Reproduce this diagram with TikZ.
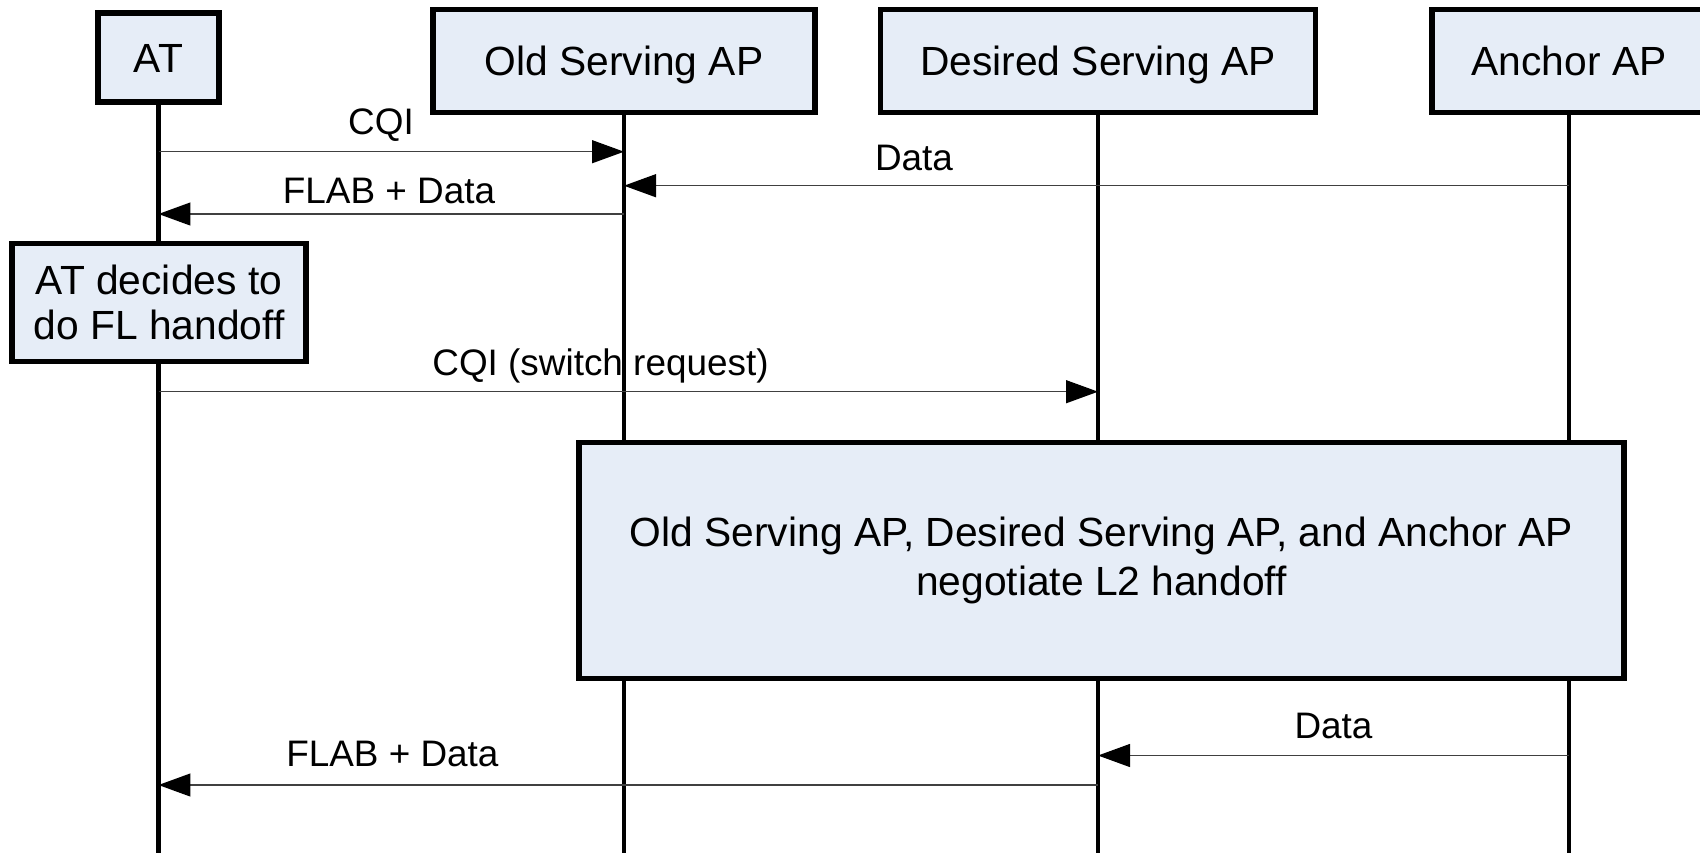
\documentclass[tikz,border=0pt]{standalone}
\usepackage{fontspec}
\setmainfont{Liberation Sans}
\usetikzlibrary{arrows.meta}
\definecolor{boxfill}{RGB}{230,237,247}

\begin{document}
\begin{tikzpicture}[x=0.02cm, y=-0.02cm,
  entity/.style={draw, line width=3pt, fill=boxfill, text height=0.58cm, text depth=0cm, font=\fontsize{23.2}{25.4}\selectfont},
  action/.style={draw, line width=3pt, fill=boxfill, align=center, font=\fontsize{23.2}{25.4}\selectfont},
  lifeline/.style={line width=2.5pt},
  msg/.style={line width=0.7pt, black!75, -{Triangle[length=0.64cm, width=0.46cm, color=black]}},
  lbl/.style={black, anchor=base, font=\fontsize{21}{25}\selectfont}]
\useasboundingbox (0,0) rectangle (1700,853);
\coordinate (bottom) at (0,853);

\node[entity, minimum width=2.42cm, minimum height=1.78cm] (at) at (158.5,57.5) {AT};
\node[entity, minimum width=7.64cm, minimum height=2.06cm] (oldap) at (624,61) {Old Serving AP};
\node[entity, minimum width=8.7cm, minimum height=2.06cm] (desiredap) at (1098,61) {Desired Serving AP};
\node[entity, minimum width=5.48cm, minimum height=2.06cm] (anchorap) at (1569,61) {Anchor AP};

\draw[lifeline] (at.south) -- (at.south |- bottom);
\draw[lifeline] (oldap.south) -- (oldap.south |- bottom);
\draw[lifeline] (desiredap.south) -- (desiredap.south |- bottom);
\draw[lifeline] (anchorap.south) -- (anchorap.south |- bottom);

\node[action, minimum width=5.88cm, minimum height=2.37cm] (decide) at (159,302.5) {AT decides to\\do FL handoff};
\node[action, minimum width=20.9cm, minimum height=4.71cm, font=\fontsize{23.2}{27.5}\selectfont] (negotiate) at (1101.5,560.5) {Old Serving AP, Desired Serving AP, and Anchor AP\\negotiate L2 handoff};

\draw[msg] (at.south |- 0,151.7) -- (oldap.south |- 0,151.7) node[lbl] at (381,134) {CQI};
\draw[msg] (anchorap.south |- 0,185.7) -- (oldap.south |- 0,185.7) node[lbl] at (914,170) {Data};
\draw[msg] (oldap.south |- 0,214) -- (at.south |- 0,214) node[lbl] at (389,203.3) {FLAB + Data};
\draw[msg] (at.south |- 0,391.7) -- (desiredap.south |- 0,391.7) node[lbl] at (600.5,375) {CQI (switch request)};
\draw[msg] (anchorap.south |- 0,755.5) -- (desiredap.south |- 0,755.5) node[lbl] at (1333.5,738.5) {Data};
\draw[msg] (desiredap.south |- 0,785) -- (at.south |- 0,785) node[lbl] at (392.4,766.7) {FLAB + Data};
\end{tikzpicture}
\end{document}
